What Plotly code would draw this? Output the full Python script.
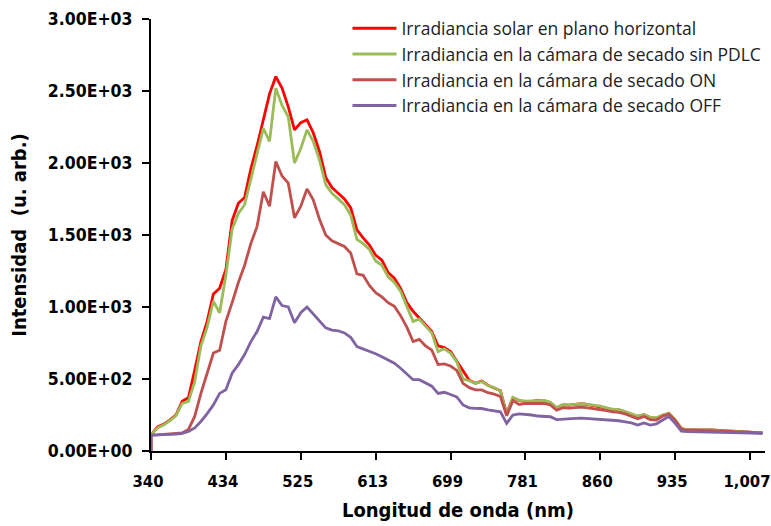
import plotly.graph_objects as go

# Category ticks (evenly spaced categories, one tick every 12 samples)
tick_labels_x = ["340", "434", "525", "613", "699", "781", "860", "935", "1,007"]
tick_step = 12
y_tick_vals = [0, 500, 1000, 1500, 2000, 2500, 3000]
y_tick_labels = ["0.00E+00", "5.00E+02", "1.00E+03", "1.50E+03", "2.00E+03", "2.50E+03", "3.00E+03"]

names = [
    "Irradiancia solar en plano horizontal",
    "Irradiancia en la cámara de secado sin PDLC",
    "Irradiancia en la cámara de secado ON",
    "Irradiancia en la cámara de secado OFF",
]

solar = [0, 110, 165, 185, 215, 250, 345, 370, 560, 760, 900, 1090, 1130, 1260, 1600, 1720, 1760, 1960,
         2120, 2310, 2480, 2600, 2520, 2390, 2230, 2280, 2300, 2210, 2080, 1900, 1830, 1790, 1750,
         1690, 1535, 1480, 1430, 1360, 1325, 1240, 1200, 1130, 1030, 970, 925, 875, 830, 730, 718,
         690, 625, 560, 492, 470, 485, 457, 440, 418, 260, 370, 350, 343, 345, 352, 350, 335, 300,
         320, 318, 322, 328, 322, 315, 310, 298, 288, 285, 272, 255, 240, 252, 232, 228, 248, 262,
         215, 155, 146, 146, 146, 150, 146, 143, 140, 138, 135, 133, 130, 128, 126]

sin_pdlc = [0, 110, 160, 180, 210, 245, 330, 345, 480, 730, 860, 1040, 960, 1220, 1540, 1650, 1710, 1880,
            2060, 2240, 2150, 2520, 2400, 2320, 2000, 2100, 2230, 2150, 2020, 1850, 1790, 1750, 1710,
            1640, 1470, 1440, 1400, 1320, 1290, 1210, 1170, 1110, 1010, 900, 915, 865, 820, 690, 710,
            680, 620, 500, 488, 468, 483, 455, 440, 416, 255, 372, 352, 346, 348, 354, 352, 338, 300,
            322, 320, 324, 330, 324, 318, 312, 300, 290, 287, 274, 258, 242, 254, 234, 230, 250, 260,
            218, 155, 146, 146, 146, 150, 146, 143, 140, 138, 135, 133, 130, 128, 126]

pdlc_on = [0, 110, 112, 114, 116, 118, 125, 150, 240, 400, 540, 680, 700, 900, 1030, 1170, 1290, 1440,
           1560, 1800, 1700, 2010, 1910, 1860, 1620, 1700, 1820, 1745, 1610, 1500, 1460, 1440, 1420,
           1375, 1230, 1220, 1150, 1100, 1070, 1030, 1005, 940, 860, 760, 775, 730, 700, 600, 605,
           590, 560, 470, 440, 425, 424, 405, 395, 378, 245, 350, 322, 330, 332, 330, 330, 320, 283,
           300, 298, 300, 305, 300, 295, 290, 280, 272, 268, 258, 240, 224, 240, 218, 215, 242, 255,
           212, 150, 144, 144, 143, 146, 143, 140, 137, 135, 133, 131, 129, 127, 125]

pdlc_off = [0, 110, 112, 113, 115, 117, 122, 135, 160, 205, 260, 320, 400, 425, 540, 600, 670, 760,
            830, 930, 920, 1070, 1010, 1000, 890, 960, 1000, 950, 900, 855, 840, 835, 820,
            790, 725, 710, 690, 675, 655, 635, 610, 575, 535, 495, 495, 475, 450, 400, 408,
            392, 375, 320, 300, 296, 295, 286, 278, 272, 192, 250, 258, 255, 250, 243, 240, 238, 218,
            222, 223, 226, 228, 225, 222, 222, 218, 215, 210, 203, 195, 180, 195, 180, 188, 215, 240,
            192, 138, 134, 133, 135, 134, 132, 130, 128, 126, 125, 124, 123, 122, 122]

colors = ["#FF0000", "#9BBB59", "#C0504D", "#8064A2"]
series = [solar, sin_pdlc, pdlc_on, pdlc_off]

# sample positions on the category axis (first two samples share position 0)
positions = [0] + list(range(len(solar) - 1))

fig = go.Figure()
for name, vals, col in zip(names, series, colors):
    fig.add_trace(go.Scatter(x=positions, y=vals, mode="lines", name=name,
                             line=dict(color=col, width=2.8)))

tick_font = dict(family="DejaVu Sans Condensed", size=17.5, color="#000000", weight=600)
xtick_font = dict(family="DejaVu Sans Condensed", size=16.5, color="#000000", weight=600)
title_font = dict(family="DejaVu Sans Condensed", size=20, color="#000000", weight=600)
fig.update_layout(
    width=771, height=526,
    margin=dict(l=151, r=6, t=19, b=75, autoexpand=False),
    paper_bgcolor="white", plot_bgcolor="white",
    showlegend=True,
    legend=dict(x=0.32, y=1.02, xanchor="left", yanchor="top",
                bgcolor="rgba(0,0,0,0)", tracegroupgap=0, itemwidth=44,
                font=dict(family="Open Sans", size=17.5, color="#222222")),
    xaxis=dict(range=[0, 98.4], showgrid=False, zeroline=False, automargin=False,
               showline=True, linecolor="black", linewidth=2,
               ticks="outside", ticklen=7, tickwidth=2, tickcolor="black",
               tickvals=[i * tick_step for i in range(len(tick_labels_x))],
               ticktext=tick_labels_x, tickfont=xtick_font,
               ticklabelshift=-3, ticklabelstandoff=7,
               title=dict(text="Longitud de onda (nm)", font=title_font, standoff=13)),
    yaxis=dict(range=[0, 3000], showgrid=False, zeroline=False, automargin=False,
               showline=True, linecolor="black", linewidth=2,
               ticks="outside", ticklen=7, tickwidth=2, tickcolor="black",
               tickvals=y_tick_vals, ticktext=y_tick_labels, tickfont=tick_font,
               ticklabelstandoff=6,
               title=dict(text="Intensidad  (u. arb.)", font=title_font, standoff=16)),
)

fig.write_html("out.html")
